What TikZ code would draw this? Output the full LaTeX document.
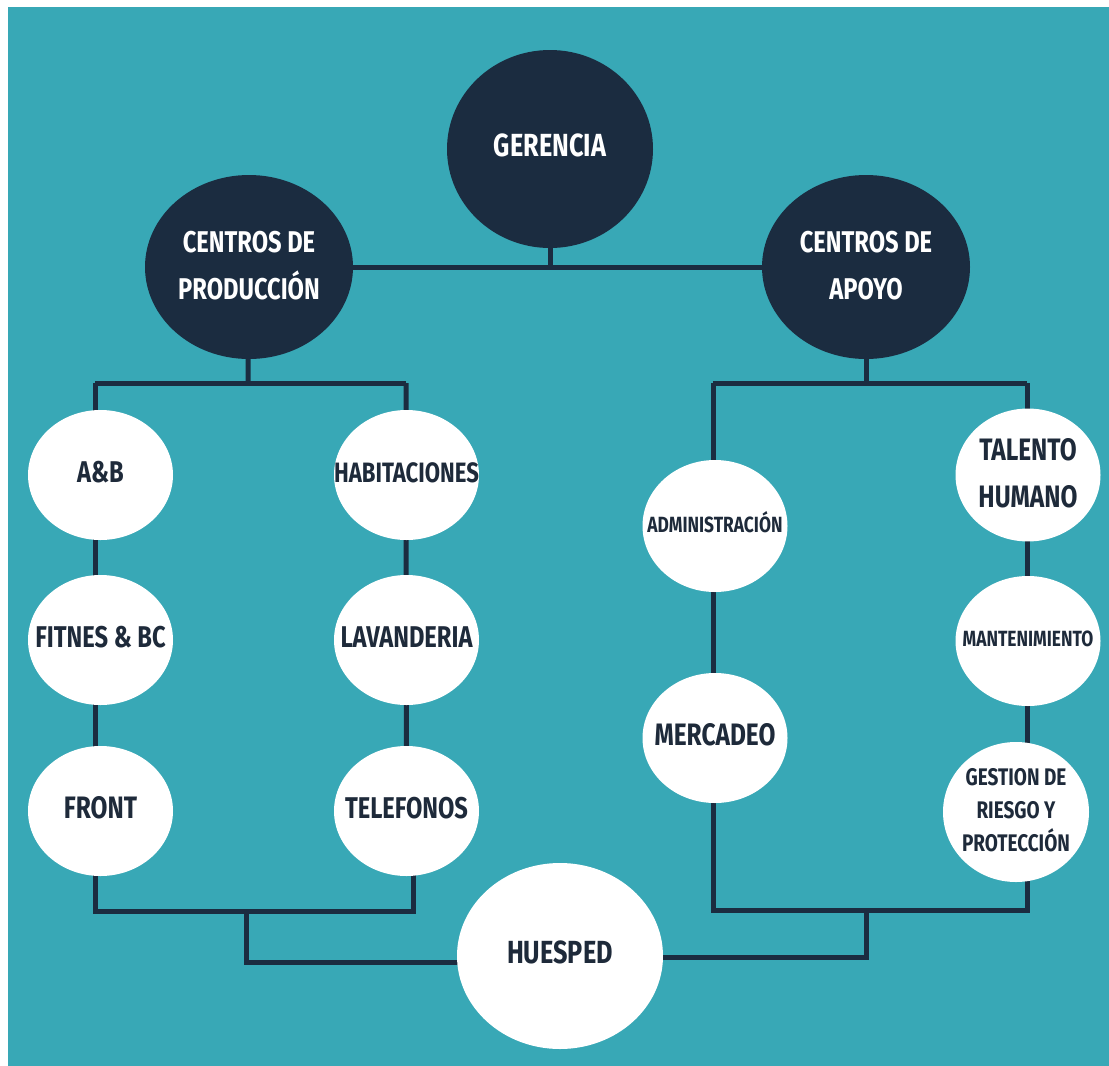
\documentclass[tikz,border=0pt]{standalone}
\usepackage{fontspec}
\newfontfamily\bebas{Fira Sans}[FakeStretch=0.79]
\usetikzlibrary{shapes.geometric,backgrounds}
\definecolor{tealbg}{RGB}{56,168,182}
\definecolor{navy}{RGB}{27,44,64}
\definecolor{navytxt}{RGB}{30,42,58}
\newcommand\ctxt[3]{\makebox[0pt]{\raisebox{-2pt}{\fontsize{#1}{#2}\selectfont\bebas\bfseries\begin{tabular}{@{}c@{}}#3\end{tabular}}}}
\tikzset{
  darknode/.style={ellipse, fill=navy, text=white, inner sep=0pt, minimum width=208, minimum height=184},
  whitenode/.style={ellipse, fill=white, text=navytxt, inner sep=0pt, minimum width=145, minimum height=130},
  conn/.style={draw=navy, line width=5pt},
}
\begin{document}
\begin{tikzpicture}[x=1pt,y=-1pt]
\useasboundingbox (0,0) rectangle (1109,1066);

% top level
\node[darknode, minimum height=198, minimum width=206] (ger) at (550,149) {\ctxt{32}{38}{GERENCIA}};
\node[darknode] (prod) at (249,267) {\ctxt{30}{47}{CENTROS DE\\PRODUCCIÓN}};
\node[darknode] (apoyo) at (866,267) {\ctxt{30}{47}{CENTROS DE\\APOYO}};

% left columns
\node[whitenode] (ab) at (100.5,475) {\ctxt{30}{36}{A\&B}};
\node[whitenode] (fit) at (100.5,640) {\ctxt{30}{36}{FITNES \& BC}};
\node[whitenode] (front) at (100.5,811) {\ctxt{31}{36}{FRONT}};
\node[whitenode] (hab) at (406.5,475) {\ctxt{28}{36}{HABITACIONES}};
\node[whitenode] (lav) at (406.5,640) {\ctxt{30}{36}{LAVANDERIA}};
\node[whitenode] (tel) at (406.5,811) {\ctxt{30}{36}{TELEFONOS}};

% right columns
\node[whitenode, minimum height=132] (adm) at (715,526) {\ctxt{22}{28}{ADMINISTRACIÓN}};
\node[whitenode] (merc) at (715,738) {\ctxt{31}{36}{MERCADEO}};
\node[whitenode] (tal) at (1028,475) {\ctxt{31}{47}{TALENTO\\HUMANO}};
\node[whitenode] (mant) at (1028,641) {\ctxt{22}{28}{MANTENIMIENTO}};
\node[whitenode, minimum width=146] (gest) at (1016,812) {\ctxt{24}{33}{GESTION DE\\RIESGO Y\\PROTECCIÓN}};

% guest
\node[whitenode, minimum width=206, minimum height=186] (hues) at (560,956) {\ctxt{32}{38}{HUESPED}};

% junction coordinates
\coordinate (jT) at (550,267);
\coordinate (jL) at (248,383);
\coordinate (jLa) at (95,383);
\coordinate (jLb) at (406,383);
\coordinate (jR) at (866,383);
\coordinate (jRa) at (713,383);
\coordinate (jRb) at (1027,383);
\coordinate (bL) at (246,911);
\coordinate (bLa) at (95,911);
\coordinate (bLb) at (413,911);
\coordinate (bR) at (866,910);
\coordinate (bRa) at (713,910);
\coordinate (bRb) at (1027,910);
\coordinate (hL) at (246,962);
\coordinate (hR) at (866,957);

\begin{scope}[on background layer]
\fill[white] (0,0) rectangle (1109,1066);
\fill[tealbg] (8,7) rectangle (1109,1066);
\draw[conn] (ger) -- (jT);
\draw[conn] (prod) -- (apoyo);
% left
\draw[conn] (prod) -- (jL);
\draw[conn] (jLa) -- (jLb);
\draw[conn] (jLa) -- (bLa) -- (bLb) -- (bLb |- tel.center);
\draw[conn] (jLb) -- (tel);
\draw[conn] (bL) -- (hL) -- (hL -| hues.center);
% right
\draw[conn] (apoyo) -- (jR);
\draw[conn] (jRa) -- (jRb);
\draw[conn] (jRa) -- (bRa) -- (bRb) -- (jRb);
\draw[conn] (bR) -- (hR) -- (hR -| hues.center);
\end{scope}
\end{tikzpicture}
\end{document}
